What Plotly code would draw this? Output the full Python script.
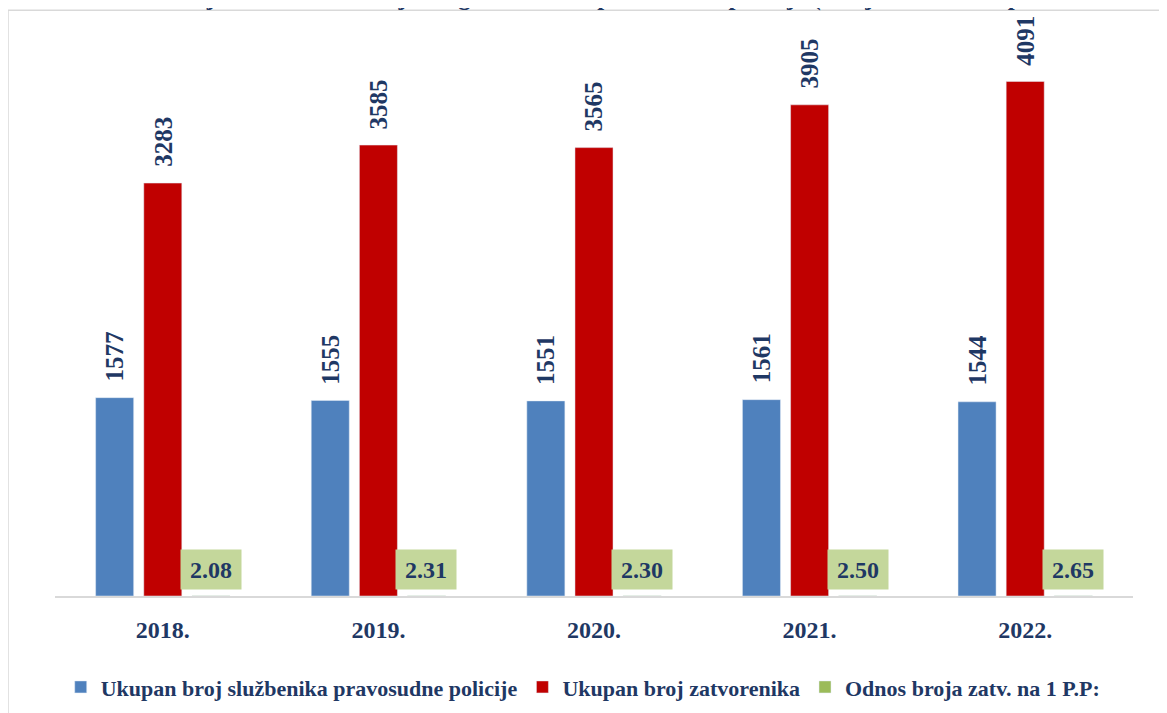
import plotly.graph_objects as go

years = [2018, 2019, 2020, 2021, 2022]
year_labels = ["2018.", "2019.", "2020.", "2021.", "2022."]
officers = [1577, 1555, 1551, 1561, 1544]
prisoners = [3283, 3585, 3565, 3905, 4091]
ratio = [2.08, 2.31, 2.30, 2.50, 2.65]

names = ["Ukupan broj službenika pravosudne policije",
         "Ukupan broj zatvorenika",
         "Odnos broja zatv. na 1 P.P:"]
title = "Slika 21. Odnos broja zatvorenika na jednog službenika pravosudne policije (stanje na dan 31. prosinca 2022.)"

NAVY = "#1F3864"
FONT = "Liberation Serif"

fig = go.Figure()
fig.add_trace(go.Bar(x=years, y=officers, name=f"<b>{names[0]}</b>", marker_color="#4F81BD"))
fig.add_trace(go.Bar(x=years, y=prisoners, name=f"<b>{names[1]}</b>", marker_color="#C00000"))
fig.add_trace(go.Bar(x=years, y=ratio, name=f"<b>{names[2]}</b>", marker_color="#9BBB59"))

for yr, v in zip(years, officers):
    fig.add_annotation(x=yr, y=v, xref="x", yref="y", text=f"<b>{v}</b>",
                       showarrow=False, textangle=-90, yanchor="bottom", xanchor="center",
                       xshift=-48, yshift=14,
                       font=dict(family=FONT, size=25, color=NAVY))
for yr, v in zip(years, prisoners):
    fig.add_annotation(x=yr, y=v, xref="x", yref="y", text=f"<b>{v}</b>",
                       showarrow=False, textangle=-90, yanchor="bottom", xanchor="center",
                       xshift=0, yshift=14,
                       font=dict(family=FONT, size=25, color=NAVY))
for yr, r in zip(years, ratio):
    fig.add_annotation(x=yr, y=0, xref="x", yref="y", text=f"<b>{r:.2f}</b>",
                       showarrow=False, yanchor="bottom", xanchor="center",
                       xshift=48, yshift=6, width=58, height=37,
                       bgcolor="#C4D79B",
                       font=dict(family=FONT, size=24, color=NAVY))

fig.add_annotation(x=0.49, y=1, xref="paper", yref="paper", text=f"<b>{title}</b>",
                   showarrow=False, xanchor="center", yanchor="middle", yshift=33,
                   font=dict(family=FONT, size=25, color=NAVY))

fig.add_shape(type="rect", xref="paper", yref="paper",
              x0=-0.0436, x1=1.2, y0=-0.5, y1=1.035,
              line=dict(color="#D9D9D9", width=1.5), fillcolor="rgba(0,0,0,0)")

fig.update_layout(
    width=1167, height=713,
    margin=dict(l=47, r=42, t=22, b=125),
    plot_bgcolor="white", paper_bgcolor="white",
    barmode="group", bargap=0.33, bargroupgap=0.21,
    font=dict(family=FONT, color=NAVY),
    showlegend=True,
    legend=dict(orientation="h", x=0.49, xanchor="center",
                y=-0.161, yanchor="middle",
                font=dict(family=FONT, size=22, color=NAVY),
                itemclick=False),
    xaxis=dict(type="linear", range=[2017.5, 2022.5], showline=True,
               linecolor="#D9D9D9", linewidth=2, automargin=False,
               showgrid=False, zeroline=False, ticks="", tickangle=0,
               ticklabelstandoff=11,
               tickvals=years, ticktext=[f"<b>{y}</b>" for y in year_labels],
               tickfont=dict(family=FONT, size=24, color=NAVY)),
    yaxis=dict(range=[0, 4500], visible=False, showgrid=False, zeroline=False),
)

fig.write_html("out.html")
